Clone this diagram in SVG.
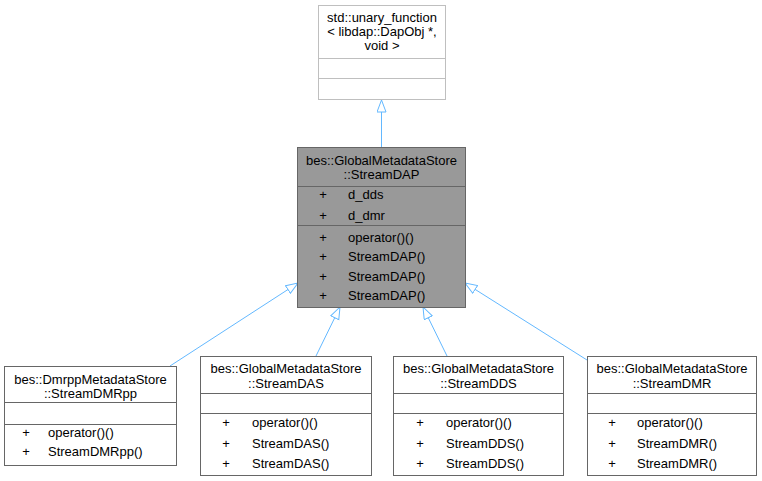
<svg xmlns="http://www.w3.org/2000/svg" width="762" height="481" viewBox="0 0 762 481">
<style>
text{font-family:"Liberation Sans",Arial,Helvetica,sans-serif;font-size:13px;fill:#000}
.c{text-anchor:middle}
.box{fill:#fff;stroke:#666;stroke-width:1}
.boxl{fill:#fff;stroke:#bfbfbf;stroke-width:1}
.boxm{fill:#999;stroke:#666;stroke-width:1}
.div{stroke:#666;stroke-width:1}
.divl{stroke:#bfbfbf;stroke-width:1}
.edge{fill:none;stroke:#63b8ff;stroke-width:1;marker-end:url(#arr)}
</style>
<defs>
<marker id="arr" markerUnits="userSpaceOnUse" markerWidth="14" markerHeight="11" refX="12.5" refY="5" orient="auto">
<path d="M0.5,0.5 L12.5,5 L0.5,9.5 z" fill="#fff" stroke="#63b8ff" stroke-width="1"/>
</marker>
</defs>
<g id="connectors">
<path class="edge" d="M381.5,147 L381.5,100"/>
<path class="edge" d="M170,366 L298,283"/>
<path class="edge" d="M316,356 L340,307"/>
<path class="edge" d="M447,356 L423,307"/>
<path class="edge" d="M587,360 L465,283"/>
</g>
<g id="node_unary_function">
<rect class="boxl" x="318.5" y="5.5" width="127" height="94"/>
<line class="divl" x1="318.5" y1="58.5" x2="445.5" y2="58.5"/>
<line class="divl" x1="318.5" y1="78.5" x2="445.5" y2="78.5"/>
<text class="c" x="382" y="22">std::unary_function</text>
<text class="c" x="382" y="36">&lt; libdap::DapObj *,</text>
<text class="c" x="382" y="50">void &gt;</text>
</g>
<g id="node_StreamDAP">
<rect class="boxm" x="297.5" y="147.5" width="168" height="160"/>
<line class="div" x1="297.5" y1="186.5" x2="465.5" y2="186.5"/>
<line class="div" x1="297.5" y1="225.5" x2="465.5" y2="225.5"/>
<text class="c" x="381.5" y="165">bes::GlobalMetadataStore</text>
<text class="c" x="381.5" y="179">::StreamDAP</text>
<text class="c" x="323" y="199">+</text><text x="348" y="199">d_dds</text>
<text class="c" x="323" y="220">+</text><text x="348" y="220">d_dmr</text>
<text class="c" x="323" y="242">+</text><text x="348" y="242">operator()()</text>
<text class="c" x="323" y="261">+</text><text x="348" y="261">StreamDAP()</text>
<text class="c" x="323" y="281">+</text><text x="348" y="281">StreamDAP()</text>
<text class="c" x="323" y="300">+</text><text x="348" y="300">StreamDAP()</text>
</g>
<g id="node_StreamDMRpp">
<rect class="box" x="4.5" y="366.5" width="172" height="99"/>
<line class="div" x1="4.5" y1="402.5" x2="176.5" y2="402.5"/>
<line class="div" x1="4.5" y1="424.5" x2="176.5" y2="424.5"/>
<text class="c" x="90.5" y="384">bes::DmrppMetadataStore</text>
<text class="c" x="90.5" y="398">::StreamDMRpp</text>
<text class="c" x="26" y="437">+</text><text x="48" y="437">operator()()</text>
<text class="c" x="26" y="456">+</text><text x="48" y="456">StreamDMRpp()</text>
</g>
<g id="node_StreamDAS">
<rect class="box" x="200.5" y="356.5" width="171" height="119"/>
<line class="div" x1="200.5" y1="393.5" x2="371.5" y2="393.5"/>
<line class="div" x1="200.5" y1="413.5" x2="371.5" y2="413.5"/>
<text class="c" x="286" y="373">bes::GlobalMetadataStore</text>
<text class="c" x="286" y="388">::StreamDAS</text>
<text class="c" x="226" y="427">+</text><text x="252" y="427">operator()()</text>
<text class="c" x="226" y="448">+</text><text x="252" y="448">StreamDAS()</text>
<text class="c" x="226" y="468">+</text><text x="252" y="468">StreamDAS()</text>
</g>
<g id="node_StreamDDS">
<rect class="box" x="393.5" y="356.5" width="170" height="119"/>
<line class="div" x1="393.5" y1="393.5" x2="563.5" y2="393.5"/>
<line class="div" x1="393.5" y1="413.5" x2="563.5" y2="413.5"/>
<text class="c" x="478.5" y="373">bes::GlobalMetadataStore</text>
<text class="c" x="478.5" y="388">::StreamDDS</text>
<text class="c" x="420" y="427">+</text><text x="446" y="427">operator()()</text>
<text class="c" x="420" y="448">+</text><text x="446" y="448">StreamDDS()</text>
<text class="c" x="420" y="468">+</text><text x="446" y="468">StreamDDS()</text>
</g>
<g id="node_StreamDMR">
<rect class="box" x="587.5" y="356.5" width="169" height="119"/>
<line class="div" x1="587.5" y1="393.5" x2="756.5" y2="393.5"/>
<line class="div" x1="587.5" y1="413.5" x2="756.5" y2="413.5"/>
<text class="c" x="672" y="373">bes::GlobalMetadataStore</text>
<text class="c" x="672" y="388">::StreamDMR</text>
<text class="c" x="612" y="427">+</text><text x="637" y="427">operator()()</text>
<text class="c" x="612" y="448">+</text><text x="637" y="448">StreamDMR()</text>
<text class="c" x="612" y="468">+</text><text x="637" y="468">StreamDMR()</text>
</g>
</svg>
